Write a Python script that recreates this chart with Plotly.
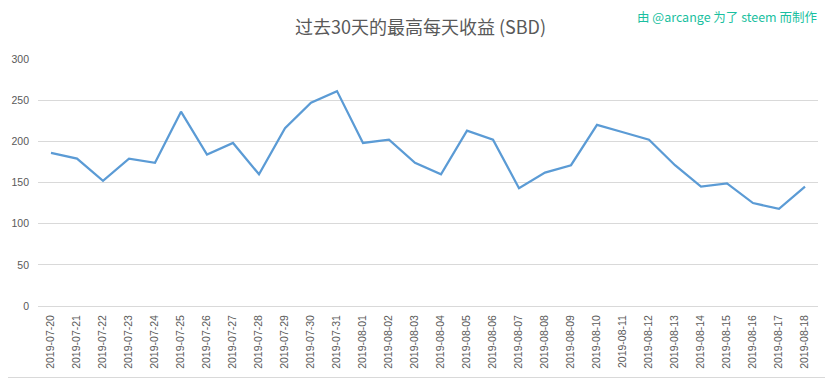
import plotly.graph_objects as go

dates = ["2019-07-20", "2019-07-21", "2019-07-22", "2019-07-23", "2019-07-24",
         "2019-07-25", "2019-07-26", "2019-07-27", "2019-07-28", "2019-07-29",
         "2019-07-30", "2019-07-31", "2019-08-01", "2019-08-02", "2019-08-03",
         "2019-08-04", "2019-08-05", "2019-08-06", "2019-08-07", "2019-08-08",
         "2019-08-09", "2019-08-10", "2019-08-11", "2019-08-12", "2019-08-13",
         "2019-08-14", "2019-08-15", "2019-08-16", "2019-08-17", "2019-08-18"]
max_daily = [186, 179, 152, 179, 174, 236, 184, 198, 160, 216,
             247, 261, 198, 202, 174, 160, 213, 202, 143, 162,
             171, 220, 211, 202, 171, 145, 149, 125, 118, 145]
y_ticks = [0, 50, 100, 150, 200, 250, 300]

title_text = "过去30天的最高每天收益 (SBD)"
credit_text = "由 @arcange 为了 steem 而制作"

# the page body has an 8px default margin; lay out in page pixels
OFF = 8
W, H = 833 - OFF, 379 - OFF
plot_left, plot_right, plot_top, plot_bottom = 38, 818, 59, 306  # page px
ml, mr = plot_left - OFF, W - (plot_right - OFF)
mt, mb = plot_top - OFF, H - (plot_bottom - OFF)
pw, ph = W - ml - mr, H - mt - mb

def px_x(p):
    return (p - OFF - ml) / pw

def px_y(p):
    return (H - mb - (p - OFF)) / ph

fig = go.Figure()
fig.add_trace(go.Scatter(
    x=dates, y=max_daily, mode="lines",
    line=dict(color="#5b9bd5", width=2.25),
    hoverinfo="x+y",
))

tick_font = dict(size=10.5, color="#595959", family="Liberation Sans, Arial, sans-serif")

fig.update_layout(
    width=W, height=H,
    margin=dict(l=ml, r=mr, t=mt, b=mb, autoexpand=False),
    paper_bgcolor="white", plot_bgcolor="white",
    showlegend=False,
    font=dict(family="Noto Sans CJK SC, Noto Sans, sans-serif", color="#595959"),
    title=dict(text=title_text, x=0.5, xanchor="center",
               y=1 - (28 - OFF) / H, yanchor="middle",
               font=dict(size=18, color="#595959", family="Noto Sans CJK SC, sans-serif")),
    xaxis=dict(type="category", tickangle=-90, showgrid=False, automargin=False,
               showline=False, ticks="", zeroline=False, ticklabelstandoff=6,
               tickfont=tick_font, range=[-0.5, len(dates) - 0.5]),
    yaxis=dict(range=[0, 300], tickvals=y_ticks, showgrid=True, gridcolor="#d9d9d9",
               gridwidth=1, zeroline=True, zerolinecolor="#d9d9d9", zerolinewidth=1,
               showline=False, ticks="", automargin=False, ticklabelstandoff=8,
               tickfont=tick_font),
    annotations=[dict(text=credit_text, xref="paper", yref="paper",
                      x=px_x(819), y=px_y(16), xanchor="right", yanchor="middle",
                      showarrow=False,
                      font=dict(size=12.5, color="#1abfa0", family="Noto Sans CJK SC, sans-serif"))],
    shapes=[
        dict(type="line", xref="paper", yref="paper",
             x0=px_x(830.5), x1=px_x(830.5), y0=px_y(377.5), y1=px_y(0),
             line=dict(color="#d9d9d9", width=1)),
        dict(type="line", xref="paper", yref="paper",
             x0=px_x(0), x1=px_x(830.5), y0=px_y(377.5), y1=px_y(377.5),
             line=dict(color="#d9d9d9", width=1)),
    ],
)

fig.write_html("out.html")
